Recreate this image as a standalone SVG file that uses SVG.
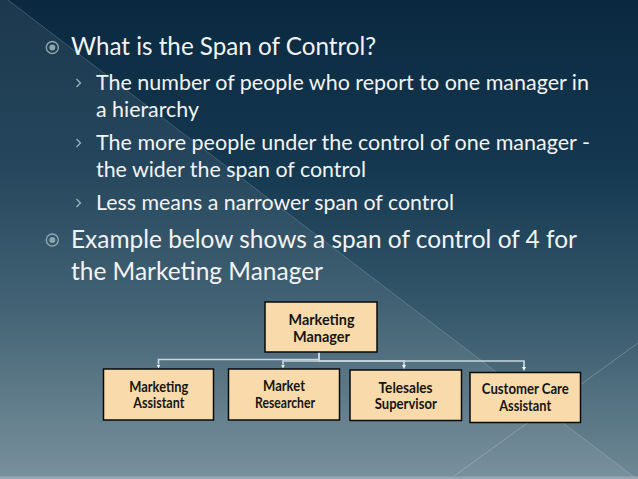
<svg xmlns="http://www.w3.org/2000/svg" width="638" height="479" viewBox="0 0 638 479">
  <defs>
    <linearGradient id="bg" x1="0" y1="0" x2="0" y2="1">
      <stop offset="0" stop-color="#0a2940"/>
      <stop offset="0.35" stop-color="#143850"/>
      <stop offset="0.65" stop-color="#35586b"/>
      <stop offset="1" stop-color="#6f8895"/>
    </linearGradient>
    <marker id="arr" viewBox="0 0 10 10" refX="0" refY="5" markerWidth="4" markerHeight="5" markerUnits="userSpaceOnUse" orient="auto">
      <path d="M0,0 L10,5 L0,10 z" fill="#eef3f6"/>
    </marker>
    <style>
      .t1 { font-family: Lato, "Open Sans", "Liberation Sans", sans-serif; font-size: 24.5px; fill: #f3f3f3; }
      .t2 { font-family: Lato, "Open Sans", "Liberation Sans", sans-serif; font-size: 21.5px; fill: #f3f3f3; }
      .bt { font-family: Lato, "Open Sans", "Liberation Sans", sans-serif; font-size: 15px; font-weight: bold; fill: #151515; text-anchor: middle; }
      .box { fill: #f9dbab; stroke: #0a0a0a; stroke-width: 1.5; }
      .ring { fill: none; stroke: #8fa5af; stroke-width: 1.4; }
      .dot { fill: #8fa5af; }
      .chev { fill: none; stroke: #a3b6bf; stroke-width: 1.2; }
      .conn { fill: none; stroke: #c9d6de; stroke-width: 1.7; marker-end: url(#arr); }
    </style>
  </defs>

  <!-- background -->
  <rect x="0" y="0" width="638" height="479" fill="url(#bg)"/>
  <polygon points="0,0 8,0 638,480 0,479" fill="#ffffff" fill-opacity="0.075"/>
  <line x1="8" y1="0" x2="638" y2="480" stroke="#ffffff" stroke-opacity="0.18" stroke-width="1"/>
  <line x1="638" y1="343" x2="450" y2="479" stroke="#ffffff" stroke-opacity="0.22" stroke-width="1"/>
  <rect x="0" y="476.5" width="638" height="2.5" fill="#95a7b1"/>

  <!-- bullets -->
  <g id="bullets">
    <circle class="ring" cx="52.3" cy="47.5" r="6"/>
    <circle class="dot" cx="52.3" cy="47.5" r="3"/>
    <circle class="ring" cx="52.3" cy="240" r="6"/>
    <circle class="dot" cx="52.3" cy="240" r="3"/>
    <polyline class="chev" points="76.5,79 80.5,83 76.5,87"/>
    <polyline class="chev" points="76.5,139 80.5,143 76.5,147"/>
    <polyline class="chev" points="76.5,199 80.5,203 76.5,207"/>
  </g>

  <g id="text">
    <text class="t1" x="71" y="55" textLength="305" lengthAdjust="spacingAndGlyphs">What is the Span of Control?</text>
    <text class="t2" x="96" y="90" textLength="493" lengthAdjust="spacingAndGlyphs">The number of people who report to one manager in</text>
    <text class="t2" x="96" y="116.5" textLength="103" lengthAdjust="spacingAndGlyphs">a hierarchy</text>
    <text class="t2" x="96" y="150" textLength="494" lengthAdjust="spacingAndGlyphs">The more people under the control of one manager -</text>
    <text class="t2" x="96" y="176.5" textLength="270" lengthAdjust="spacingAndGlyphs">the wider the span of control</text>
    <text class="t2" x="96" y="210" textLength="358" lengthAdjust="spacingAndGlyphs">Less means a narrower span of control</text>
    <text class="t1" x="71" y="248" textLength="506" lengthAdjust="spacingAndGlyphs">Example below shows a span of control of 4 for</text>
    <text class="t1" x="71" y="280" textLength="252" lengthAdjust="spacingAndGlyphs">the Marketing Manager</text>
  </g>

  <g id="connectors">
    <path class="conn" d="M319,352 V359.5 H158.5 V364.5"/>
    <path class="conn" d="M319,352 V361 H283 V364.5"/>
    <path class="conn" d="M319,352 V361 H404 V365"/>
    <path class="conn" d="M319,352 V361 H524 V367"/>
  </g>

  <g id="marketing-manager">
    <rect class="box" x="265" y="302" width="112" height="50"/>
    <text class="bt" x="321.5" y="324.5" font-size="16" textLength="66" lengthAdjust="spacingAndGlyphs">Marketing</text>
    <text class="bt" x="321.5" y="341.5" font-size="16" textLength="57" lengthAdjust="spacingAndGlyphs">Manager</text>
  </g>

  <g id="marketing-assistant">
    <rect class="box" x="103.5" y="369" width="110" height="51"/>
    <text class="bt" x="158.8" y="391.5" textLength="59" lengthAdjust="spacingAndGlyphs">Marketing</text>
    <text class="bt" x="158.8" y="408" textLength="51" lengthAdjust="spacingAndGlyphs">Assistant</text>
  </g>

  <g id="market-researcher">
    <rect class="box" x="228.5" y="369" width="111" height="51"/>
    <text class="bt" x="284" y="391" textLength="42" lengthAdjust="spacingAndGlyphs">Market</text>
    <text class="bt" x="285" y="408" textLength="60" lengthAdjust="spacingAndGlyphs">Researcher</text>
  </g>

  <g id="telesales-supervisor">
    <rect class="box" x="350" y="370" width="111.5" height="50.5"/>
    <text class="bt" x="405.6" y="392.5" textLength="54" lengthAdjust="spacingAndGlyphs">Telesales</text>
    <text class="bt" x="405.8" y="409" textLength="62" lengthAdjust="spacingAndGlyphs">Supervisor</text>
  </g>

  <g id="customer-care-assistant">
    <rect class="box" x="470" y="372.5" width="110.5" height="50"/>
    <text class="bt" x="525.3" y="394" textLength="87" lengthAdjust="spacingAndGlyphs">Customer Care</text>
    <text class="bt" x="525.2" y="410.5" textLength="52" lengthAdjust="spacingAndGlyphs">Assistant</text>
  </g>
</svg>
